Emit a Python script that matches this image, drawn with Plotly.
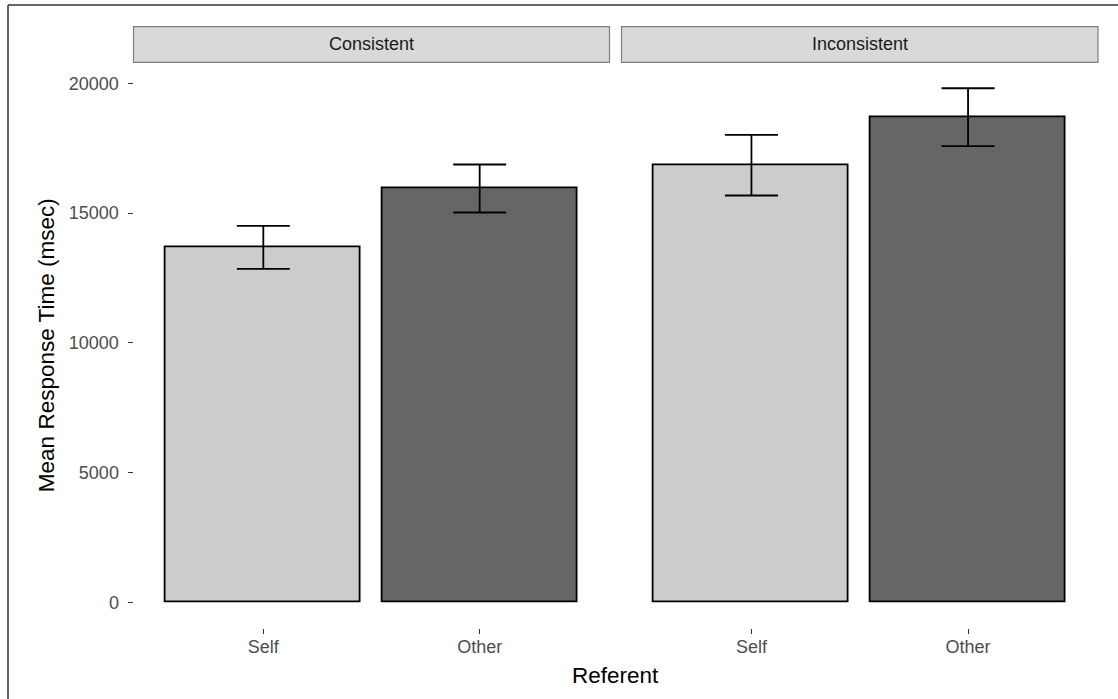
import plotly.graph_objects as go

# Mean response times by referent, faceted by consistency condition
conditions = ["Consistent", "Inconsistent"]
referents = ["Self", "Other"]
means = {
    "Consistent": [13680, 15950],
    "Inconsistent": [16850, 18700],
}
errors = {
    "Consistent": [830, 925],
    "Inconsistent": [1170, 1115],
}
bar_fills = ["#cccccc", "#666666"]
y_ticks = [0, 5000, 10000, 15000, 20000]

W, H = 1118, 699
FONT = "Liberation Sans, Arial, sans-serif"


def px_x(p):
    return p / W


def px_y(p):
    return 1 - p / H


panels = [(133.5, 609.5), (621.5, 1098.0)]
panel_top, panel_bottom = 62.3, 628.0

fig = go.Figure()
for i, cond in enumerate(conditions):
    axis_suffix = "" if i == 0 else str(i + 1)
    fig.add_trace(go.Bar(
        x=referents,
        y=means[cond],
        width=0.9,
        marker=dict(color=bar_fills, line=dict(color="#000000", width=1.8)),
        error_y=dict(type="data", array=errors[cond], visible=True,
                     color="#000000", thickness=1.8, width=26.5),
        xaxis="x" + axis_suffix,
        yaxis="y",
        showlegend=False,
        hoverinfo="x+y",
    ))

tick_font = dict(family=FONT, size=18, color="#4d4d4d")
xaxis_common = dict(
    type="category",
    categoryorder="array",
    categoryarray=referents,
    range=[-0.6, 1.6],
    showgrid=False,
    zeroline=False,
    showline=False,
    ticks="outside",
    ticklen=5,
    tickwidth=1.3,
    tickcolor="#333333",
    tickfont=tick_font,
    ticklabelstandoff=-3,
    anchor="y",
    fixedrange=True,
)

fig.update_layout(
    width=W,
    height=H,
    margin=dict(l=0, r=0, t=0, b=0),
    autosize=False,
    paper_bgcolor="#ffffff",
    plot_bgcolor="#ffffff",
    bargap=0,
    xaxis=dict(domain=[px_x(panels[0][0]), px_x(panels[0][1])], **xaxis_common),
    xaxis2=dict(domain=[px_x(panels[1][0]), px_x(panels[1][1])], **xaxis_common),
    yaxis=dict(
        domain=[px_y(panel_bottom), px_y(panel_top)],
        range=[-990, 20815],
        tickvals=y_ticks,
        ticktext=[str(v) for v in y_ticks],
        showgrid=False,
        zeroline=False,
        showline=False,
        ticks="outside",
        ticklen=5,
        tickwidth=1.3,
        tickcolor="#333333",
        tickfont=tick_font,
        ticklabelstandoff=5,
        anchor="x",
        fixedrange=True,
    ),
)

shapes = []
annotations = []
# facet strips
for (x0, x1), cond in zip(panels, conditions):
    shapes.append(dict(
        type="rect", xref="paper", yref="paper",
        x0=px_x(x0), x1=px_x(x1), y0=px_y(62.3), y1=px_y(26.7),
        fillcolor="#d9d9d9", line=dict(color="#7f7f7f", width=1.2), layer="below",
    ))
    annotations.append(dict(
        text=cond, xref="paper", yref="paper",
        x=px_x((x0 + x1) / 2), y=px_y(44.5),
        xanchor="center", yanchor="middle", showarrow=False,
        font=dict(family=FONT, size=18, color="#1a1a1a"),
    ))

# outer frame (top and left edges)
shapes.append(dict(type="line", xref="paper", yref="paper",
                   x0=px_x(8), x1=1, y0=px_y(5), y1=px_y(5),
                   line=dict(color="#333333", width=1.5)))
shapes.append(dict(type="line", xref="paper", yref="paper",
                   x0=px_x(8), x1=px_x(8), y0=0, y1=px_y(5),
                   line=dict(color="#333333", width=1.5)))

# axis titles
annotations.append(dict(
    text="Referent", xref="paper", yref="paper",
    x=px_x((panels[0][0] + panels[1][1]) / 2), y=px_y(675),
    xanchor="center", yanchor="middle", showarrow=False,
    font=dict(family=FONT, size=22.5, color="#000000"),
))
annotations.append(dict(
    text="Mean Response Time (msec)", xref="paper", yref="paper",
    x=px_x(46), y=px_y((panel_top + panel_bottom) / 2),
    xanchor="center", yanchor="middle", showarrow=False, textangle=-90,
    font=dict(family=FONT, size=22.5, color="#000000"),
))

fig.update_layout(shapes=shapes, annotations=annotations)

fig.write_html("out.html")
